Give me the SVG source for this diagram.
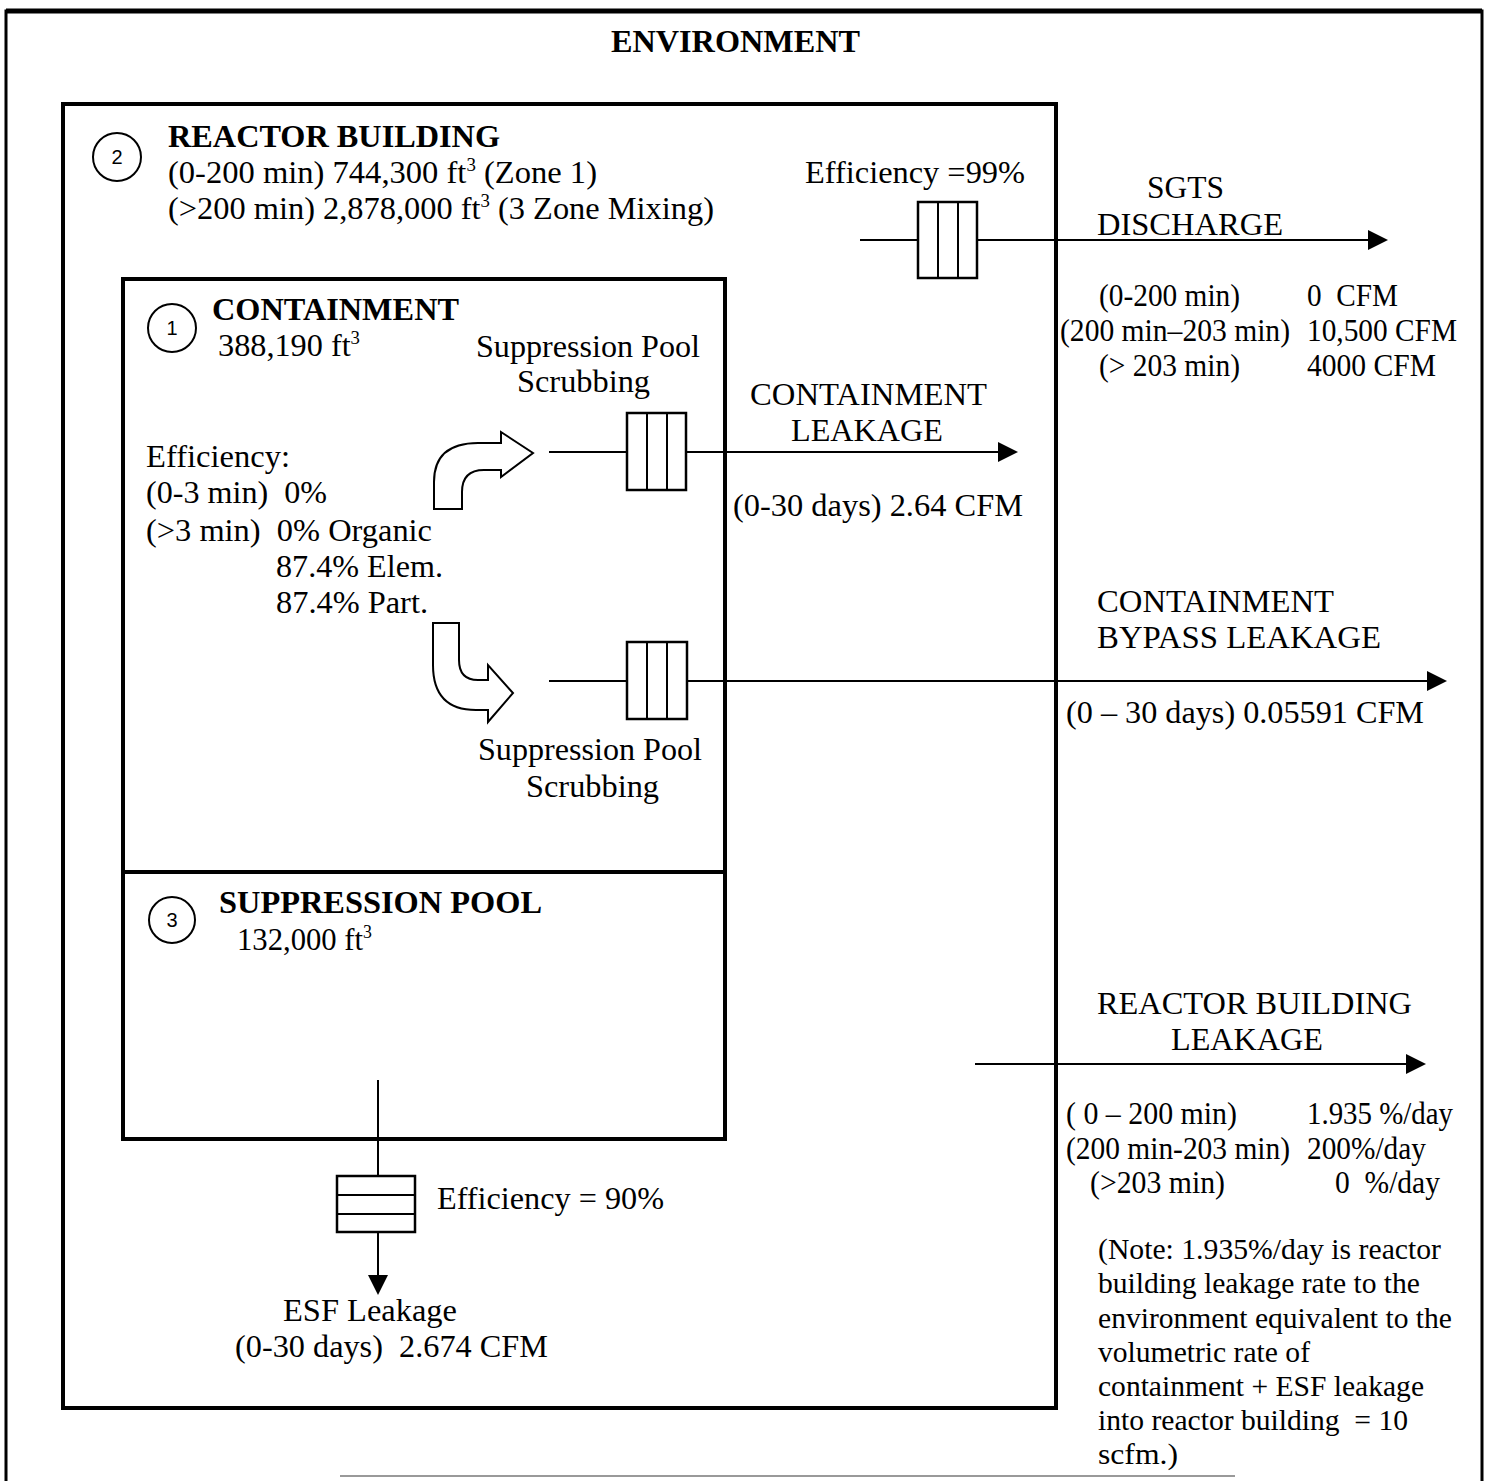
<svg xmlns="http://www.w3.org/2000/svg" width="1490" height="1481" viewBox="0 0 1490 1481">
<style>
text{font-family:"Liberation Serif","Times New Roman",serif;font-size:31px;fill:#000}
.b{font-weight:bold;font-size:31px}
.n{font-size:29px}
.box{fill:none;stroke:#000;stroke-width:4}
.ln{fill:none;stroke:#000;stroke-width:2}
.flt{fill:#fff;stroke:#000;stroke-width:2.5}
.num{font-family:"Liberation Sans",Arial,sans-serif;font-size:20px}
.sup{font-size:18px}
</style>
<defs>
<marker id="ah" viewBox="0 0 20 20" refX="18" refY="10" markerWidth="20" markerHeight="20" markerUnits="userSpaceOnUse" orient="auto">
<path d="M0,0 L20,10 L0,20 Z" fill="#000"/>
</marker>
</defs>
<rect width="1490" height="1481" fill="#fff"/>
<g id="environment">
<path d="M6,1481 L6,11 L1482,11 L1482,1481" fill="none" stroke="#000" stroke-width="3"/>
<line x1="6" y1="11" x2="1482" y2="11" stroke="#000" stroke-width="5"/>
<line x1="340" y1="1476" x2="1235" y2="1476" stroke="#999" stroke-width="2"/>
<text class="b" x="611" y="52" textLength="249" lengthAdjust="spacingAndGlyphs">ENVIRONMENT</text>
</g>
<g id="reactor-building">
<rect class="box" x="63" y="104" width="993" height="1304"/>
<circle class="ln" cx="117" cy="157" r="24"/>
<text class="num" x="117" y="164" text-anchor="middle">2</text>
<text class="b" x="168" y="147" textLength="332" lengthAdjust="spacingAndGlyphs">REACTOR BUILDING</text>
<text x="168" y="183" textLength="429" lengthAdjust="spacingAndGlyphs">(0-200 min) 744,300 ft<tspan class="sup" dy="-12">3</tspan><tspan dy="12"> (Zone 1)</tspan></text>
<text x="168" y="219" textLength="546" lengthAdjust="spacingAndGlyphs">(&gt;200 min) 2,878,000 ft<tspan class="sup" dy="-12">3</tspan><tspan dy="12"> (3 Zone Mixing)</tspan></text>
</g>
<g id="containment">
<rect class="box" x="123" y="279" width="602" height="593"/>
<circle class="ln" cx="172" cy="328" r="24"/>
<text class="num" x="172" y="335" text-anchor="middle">1</text>
<text class="b" x="212" y="320" textLength="247" lengthAdjust="spacingAndGlyphs">CONTAINMENT</text>
<text x="218" y="356" textLength="142" lengthAdjust="spacingAndGlyphs">388,190 ft<tspan class="sup" dy="-12">3</tspan></text>
<text x="146" y="467" textLength="144" lengthAdjust="spacingAndGlyphs">Efficiency:</text>
<text x="146" y="503" xml:space="preserve" textLength="181" lengthAdjust="spacingAndGlyphs">(0-3 min)  0%</text>
<text x="146" y="541" xml:space="preserve" textLength="286" lengthAdjust="spacingAndGlyphs">(&gt;3 min)  0% Organic</text>
<text x="276" y="577" textLength="167" lengthAdjust="spacingAndGlyphs">87.4% Elem.</text>
<text x="276" y="613" textLength="152" lengthAdjust="spacingAndGlyphs">87.4% Part.</text>
</g>
<g id="suppression-pool">
<rect class="box" x="123" y="872" width="602" height="267"/>
<circle class="ln" cx="172" cy="920" r="23"/>
<text class="num" x="172" y="927" text-anchor="middle">3</text>
<text class="b" x="219" y="913" textLength="323" lengthAdjust="spacingAndGlyphs">SUPPRESSION POOL</text>
<text x="237" y="950" textLength="135" lengthAdjust="spacingAndGlyphs">132,000 ft<tspan class="sup" dy="-12">3</tspan></text>
</g>
<g id="connectors">
<line class="ln" x1="860" y1="240" x2="1386" y2="240" marker-end="url(#ah)"/>
<rect class="flt" x="918" y="202" width="59" height="76"/>
<line class="ln" x1="938" y1="202" x2="938" y2="278"/>
<line class="ln" x1="958" y1="202" x2="958" y2="278"/>
<line class="ln" x1="549" y1="452" x2="1016" y2="452" marker-end="url(#ah)"/>
<rect class="flt" x="627" y="413" width="59" height="77"/>
<line class="ln" x1="647" y1="413" x2="647" y2="490"/>
<line class="ln" x1="667" y1="413" x2="667" y2="490"/>
<line class="ln" x1="549" y1="681" x2="1445" y2="681" marker-end="url(#ah)"/>
<rect class="flt" x="627" y="642" width="60" height="77"/>
<line class="ln" x1="647" y1="642" x2="647" y2="719"/>
<line class="ln" x1="667" y1="642" x2="667" y2="719"/>
<path class="ln" d="M434,509 L434,482 Q434,443 478,443 L501,443 L501,432 L533,453 L501,477 L501,470 L484,470 Q462,470 462,492 L462,509 Z"/>
<path class="ln" d="M433,623 L459,623 L459,660 Q459,680 478,680 L488,680 L488,665 L513,693 L488,722 L488,710 L476,710 Q433,710 433,665 Z"/>
<line class="ln" x1="975" y1="1064" x2="1424" y2="1064" marker-end="url(#ah)"/>
<line class="ln" x1="378" y1="1080" x2="378" y2="1293" marker-end="url(#ah)"/>
<rect class="flt" x="337" y="1176" width="78" height="56"/>
<line class="ln" x1="337" y1="1195" x2="415" y2="1195"/>
<line class="ln" x1="337" y1="1214" x2="415" y2="1214"/>
</g>
<g id="labels">
<text x="805" y="183" textLength="220" lengthAdjust="spacingAndGlyphs">Efficiency =99%</text>
<text x="1147" y="198" textLength="77" lengthAdjust="spacingAndGlyphs">SGTS</text>
<text x="1097" y="235" textLength="186" lengthAdjust="spacingAndGlyphs">DISCHARGE</text>
<text x="1099" y="306" textLength="141" lengthAdjust="spacingAndGlyphs">(0-200 min)</text>
<text x="1307" y="306" xml:space="preserve" textLength="91" lengthAdjust="spacingAndGlyphs">0  CFM</text>
<text x="1060" y="341" textLength="230" lengthAdjust="spacingAndGlyphs">(200 min–203 min)</text>
<text x="1307" y="341" textLength="150" lengthAdjust="spacingAndGlyphs">10,500 CFM</text>
<text x="1099" y="376" textLength="141" lengthAdjust="spacingAndGlyphs">(&gt; 203 min)</text>
<text x="1307" y="376" textLength="129" lengthAdjust="spacingAndGlyphs">4000 CFM</text>
<text x="476" y="357" textLength="224" lengthAdjust="spacingAndGlyphs">Suppression Pool</text>
<text x="517" y="392" textLength="133" lengthAdjust="spacingAndGlyphs">Scrubbing</text>
<text x="750" y="405" textLength="237" lengthAdjust="spacingAndGlyphs">CONTAINMENT</text>
<text x="791" y="441" textLength="152" lengthAdjust="spacingAndGlyphs">LEAKAGE</text>
<text x="733" y="516" textLength="290" lengthAdjust="spacingAndGlyphs">(0-30 days) 2.64 CFM</text>
<text x="1097" y="612" textLength="237" lengthAdjust="spacingAndGlyphs">CONTAINMENT</text>
<text x="1097" y="648" textLength="284" lengthAdjust="spacingAndGlyphs">BYPASS LEAKAGE</text>
<text x="1066" y="723" textLength="358" lengthAdjust="spacingAndGlyphs">(0 – 30 days) 0.05591 CFM</text>
<text x="478" y="760" textLength="224" lengthAdjust="spacingAndGlyphs">Suppression Pool</text>
<text x="526" y="797" textLength="133" lengthAdjust="spacingAndGlyphs">Scrubbing</text>
<text x="1097" y="1014" textLength="315" lengthAdjust="spacingAndGlyphs">REACTOR BUILDING</text>
<text x="1171" y="1050" textLength="152" lengthAdjust="spacingAndGlyphs">LEAKAGE</text>
<text x="1066" y="1124" textLength="171" lengthAdjust="spacingAndGlyphs">( 0 – 200 min)</text>
<text x="1307" y="1124" textLength="146" lengthAdjust="spacingAndGlyphs">1.935 %/day</text>
<text x="1066" y="1159" textLength="224" lengthAdjust="spacingAndGlyphs">(200 min-203 min)</text>
<text x="1307" y="1159" textLength="119" lengthAdjust="spacingAndGlyphs">200%/day</text>
<text x="1090" y="1193" textLength="135" lengthAdjust="spacingAndGlyphs">(&gt;203 min)</text>
<text x="1335" y="1193" xml:space="preserve" textLength="105" lengthAdjust="spacingAndGlyphs">0  %/day</text>
<text class="n" x="1098" y="1259" textLength="343" lengthAdjust="spacingAndGlyphs">(Note: 1.935%/day is reactor</text>
<text class="n" x="1098" y="1293" textLength="322" lengthAdjust="spacingAndGlyphs">building leakage rate to the</text>
<text class="n" x="1098" y="1328" textLength="354" lengthAdjust="spacingAndGlyphs">environment equivalent to the</text>
<text class="n" x="1098" y="1362" textLength="212" lengthAdjust="spacingAndGlyphs">volumetric rate of</text>
<text class="n" x="1098" y="1396" textLength="326" lengthAdjust="spacingAndGlyphs">containment + ESF leakage</text>
<text class="n" x="1098" y="1430" xml:space="preserve" textLength="310" lengthAdjust="spacingAndGlyphs">into reactor building  = 10</text>
<text class="n" x="1098" y="1464" textLength="80" lengthAdjust="spacingAndGlyphs">scfm.)</text>
<text x="437" y="1209" textLength="227" lengthAdjust="spacingAndGlyphs">Efficiency = 90%</text>
<text x="283" y="1321" textLength="174" lengthAdjust="spacingAndGlyphs">ESF Leakage</text>
<text x="235" y="1357" xml:space="preserve" textLength="313" lengthAdjust="spacingAndGlyphs">(0-30 days)  2.674 CFM</text>
</g>
</svg>
